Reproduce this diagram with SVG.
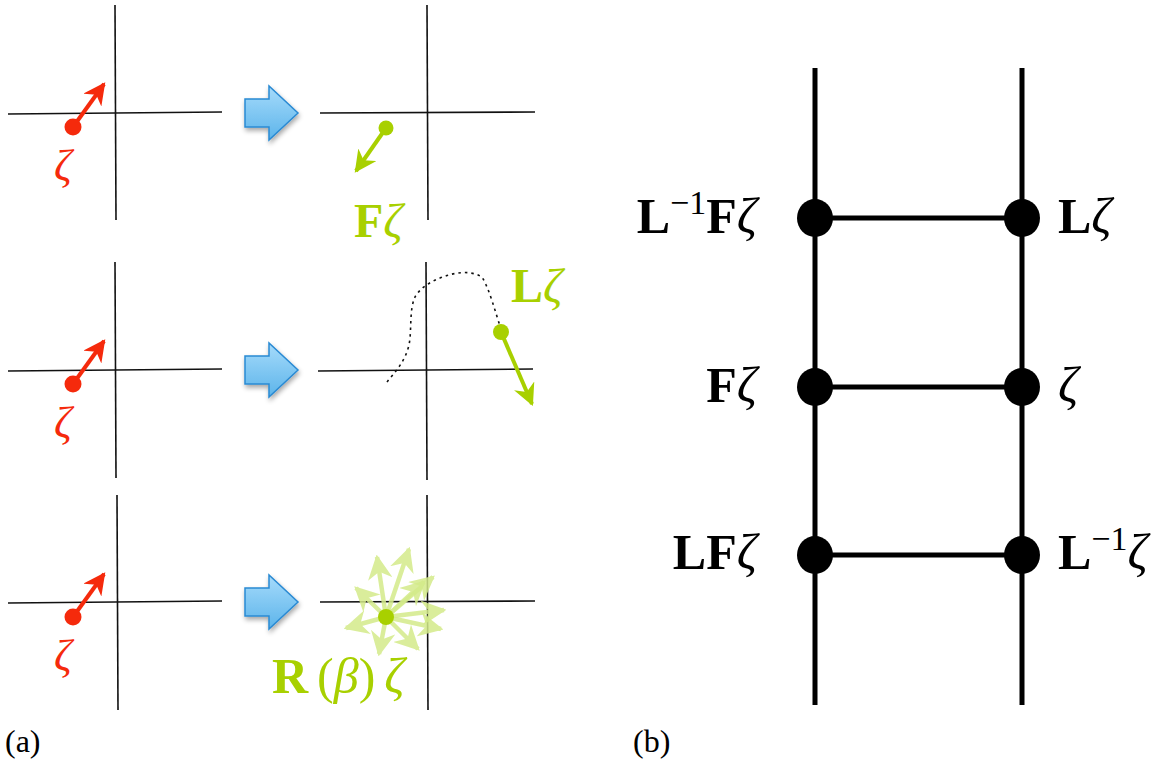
<svg xmlns="http://www.w3.org/2000/svg" width="1169" height="761" viewBox="0 0 1169 761">
  <defs>
    <linearGradient id="blueFill" x1="0" y1="0" x2="0" y2="1">
      <stop offset="0" stop-color="#a6dbfb"/>
      <stop offset="1" stop-color="#5cb4ea"/>
    </linearGradient>
    <filter id="shadow" x="-30%" y="-30%" width="160%" height="160%">
      <feGaussianBlur in="SourceAlpha" stdDeviation="2.5"/>
      <feOffset dx="1" dy="3" result="b"/>
      <feComponentTransfer><feFuncA type="linear" slope="0.35"/></feComponentTransfer>
      <feMerge><feMergeNode/><feMergeNode in="SourceGraphic"/></feMerge>
    </filter>
    <marker id="headRed" viewBox="0 0 10 10" refX="9" refY="5" markerWidth="5.5" markerHeight="5.5" markerUnits="strokeWidth" orient="auto">
      <path d="M0,0 L10,5 L0,10 L3,5 Z" fill="#f52a0c"/>
    </marker>
    <marker id="headGreen" viewBox="0 0 10 10" refX="9" refY="5" markerWidth="5.5" markerHeight="5.5" markerUnits="strokeWidth" orient="auto">
      <path d="M0,0 L10,5 L0,10 L3,5 Z" fill="#a8d000"/>
    </marker>
    <marker id="headPale" viewBox="0 0 10 10" refX="9" refY="5" markerWidth="5.5" markerHeight="5.5" markerUnits="strokeWidth" orient="auto">
      <path d="M0,0 L10,5 L0,10 L3,5 Z" fill="#d4eb8a"/>
    </marker>
    <path id="bigArrow" d="M0,-14 L24,-14 L24,-27 L53,0 L24,27 L24,14 L0,14 Z"/>
  </defs>
  <style>
    .axis { stroke: #111; stroke-width: 1.6; fill: none; }
    .red { stroke: #f52a0c; stroke-width: 4; fill: none; marker-end: url(#headRed); }
    .grn { stroke: #a8d000; stroke-width: 4; fill: none; marker-end: url(#headGreen); }
    .pale { stroke: #d4eb8a; stroke-width: 4.5; fill: none; opacity: 0.85; marker-end: url(#headPale); }
    .dotR { fill: #f52a0c; }
    .dotG { fill: #a8d000; }
    .blue { fill: url(#blueFill); stroke: #2a8ad3; stroke-width: 1.5; filter: url(#shadow); }
    .rail { stroke: #000; stroke-width: 5; fill: none; }
    .node { fill: #000; }
    .mb { font-family: "Liberation Serif", "DejaVu Serif", serif; font-weight: bold; }
    .mi { font-family: "Liberation Serif", "DejaVu Serif", serif; font-style: italic; font-weight: normal; }
    .rm { font-family: "Liberation Serif", "DejaVu Serif", serif; font-weight: normal; font-style: normal; }
  </style>

  <!-- (a) row 1: rotation by F -->
  <g id="row1-before">
    <line class="axis" x1="8" y1="114" x2="222" y2="112"/>
    <line class="axis" x1="115" y1="5" x2="116" y2="220"/>
    <line class="red" x1="73" y1="127" x2="104" y2="84"/>
    <circle class="dotR" cx="73" cy="127" r="8.5"/>
    <text class="mi" x="54" y="180" font-size="44" fill="#f52a0c">ζ</text>
  </g>
  <g id="row1-step"><use href="#bigArrow" class="blue" transform="translate(245,113)"/></g>
  <g id="row1-after">
    <line class="axis" x1="320" y1="113" x2="535" y2="112"/>
    <line class="axis" x1="427" y1="5" x2="428" y2="220"/>
    <line class="grn" x1="386" y1="128" x2="356" y2="171"/>
    <circle class="dotG" cx="386" cy="128" r="7.5"/>
    <text x="354" y="237" font-size="48" fill="#a8d000"><tspan class="mb">F</tspan><tspan class="mi">ζ</tspan></text>
  </g>

  <!-- (a) row 2: transport along a loop L -->
  <g id="row2-before">
    <line class="axis" x1="8" y1="371" x2="222" y2="369"/>
    <line class="axis" x1="115" y1="262" x2="116" y2="478"/>
    <line class="red" x1="73" y1="384" x2="104" y2="341"/>
    <circle class="dotR" cx="73" cy="384" r="8.5"/>
    <text class="mi" x="54" y="437" font-size="44" fill="#f52a0c">ζ</text>
  </g>
  <g id="row2-step"><use href="#bigArrow" class="blue" transform="translate(245,370)"/></g>
  <g id="row2-after">
    <line class="axis" x1="318" y1="371" x2="533" y2="369"/>
    <line class="axis" x1="426" y1="262" x2="427" y2="480"/>
    <path d="M387,382 C395,372 405,362 409,345 C412,330 409,310 415,297 C420,288 430,282 440,278 C455,272 470,270 482,277 C490,290 496,315 502,332" fill="none" stroke="#111" stroke-width="1.6" stroke-dasharray="2.5,4"/>
    <line class="grn" x1="501" y1="332" x2="532" y2="404"/>
    <circle class="dotG" cx="501" cy="332" r="8"/>
    <text x="511" y="302" font-size="48" fill="#a8d000"><tspan class="mb">L</tspan><tspan class="mi">ζ</tspan></text>
  </g>

  <!-- (a) row 3: random rotation R(β) -->
  <g id="row3-before">
    <line class="axis" x1="8" y1="603" x2="222" y2="601"/>
    <line class="axis" x1="117" y1="495" x2="118" y2="710"/>
    <line class="red" x1="73" y1="617" x2="104" y2="574"/>
    <circle class="dotR" cx="73" cy="617" r="8.5"/>
    <text class="mi" x="54" y="670" font-size="44" fill="#f52a0c">ζ</text>
  </g>
  <g id="row3-step"><use href="#bigArrow" class="blue" transform="translate(245,602)"/></g>
  <g id="row3-after">
    <line class="axis" x1="320" y1="602" x2="535" y2="601"/>
    <line class="axis" x1="427" y1="495" x2="428" y2="710"/>
    <g>
      <line class="pale" x1="386" y1="617" x2="377" y2="557"/>
      <line class="pale" x1="386" y1="617" x2="409" y2="549"/>
      <line class="pale" x1="386" y1="617" x2="433" y2="577"/>
      <line class="pale" x1="386" y1="617" x2="424" y2="582"/>
      <line class="pale" x1="386" y1="617" x2="444" y2="610"/>
      <line class="pale" x1="386" y1="617" x2="441" y2="629"/>
      <line class="pale" x1="386" y1="617" x2="418" y2="649"/>
      <line class="pale" x1="386" y1="617" x2="379" y2="654"/>
      <line class="pale" x1="386" y1="617" x2="346" y2="628"/>
      <line class="pale" x1="386" y1="617" x2="356" y2="588"/>
    </g>
    <circle class="dotG" cx="386" cy="617" r="8"/>
    <text x="272" y="693" font-size="50" fill="#a8d000"><tspan class="mb">R</tspan><tspan class="rm" dx="9">(</tspan><tspan class="mi">β</tspan><tspan class="rm">)</tspan><tspan class="mi" dx="9">ζ</tspan></text>
  </g>
  <text class="rm" x="5" y="752" font-size="32" fill="#000">(a)</text>

  <!-- (b) ladder graph -->
  <g id="connectors">
    <line class="rail" x1="815" y1="68" x2="815" y2="705"/>
    <line class="rail" x1="1022" y1="68" x2="1022" y2="705"/>
    <line class="rail" x1="815" y1="218" x2="1022" y2="218"/>
    <line class="rail" x1="815" y1="387" x2="1022" y2="387"/>
    <line class="rail" x1="815" y1="555" x2="1022" y2="555"/>
  </g>
  <g id="n-L-inv-F">
    <ellipse class="node" cx="815" cy="218" rx="18" ry="19"/>
    <text x="757" y="233" font-size="50" text-anchor="end"><tspan class="mb">L</tspan><tspan class="rm" font-size="34" dy="-19">−1</tspan><tspan class="mb" dy="19">F</tspan><tspan class="mi">ζ</tspan></text>
  </g>
  <g id="n-L">
    <ellipse class="node" cx="1022" cy="218" rx="18" ry="19"/>
    <text x="1058" y="233" font-size="50"><tspan class="mb">L</tspan><tspan class="mi">ζ</tspan></text>
  </g>
  <g id="n-F">
    <ellipse class="node" cx="815" cy="387" rx="18" ry="19"/>
    <text x="757" y="402" font-size="50" text-anchor="end"><tspan class="mb">F</tspan><tspan class="mi">ζ</tspan></text>
  </g>
  <g id="n-id">
    <ellipse class="node" cx="1022" cy="387" rx="18" ry="19"/>
    <text class="mi" x="1058" y="402" font-size="50">ζ</text>
  </g>
  <g id="n-LF">
    <ellipse class="node" cx="815" cy="555" rx="18" ry="19"/>
    <text x="757" y="569" font-size="50" text-anchor="end"><tspan class="mb">LF</tspan><tspan class="mi">ζ</tspan></text>
  </g>
  <g id="n-L-inv">
    <ellipse class="node" cx="1022" cy="555" rx="18" ry="19"/>
    <text x="1058" y="569" font-size="50"><tspan class="mb">L</tspan><tspan class="rm" font-size="34" dy="-19">−1</tspan><tspan class="mi" dy="19">ζ</tspan></text>
  </g>
  <text class="rm" x="633" y="752" font-size="32" fill="#000">(b)</text>
</svg>
